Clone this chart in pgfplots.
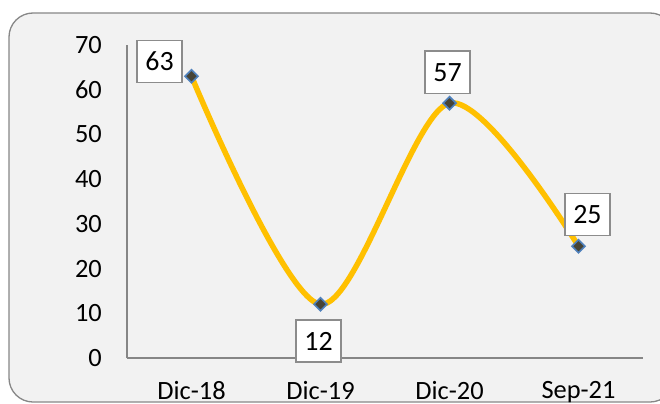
\documentclass[border=0pt]{standalone}
\usepackage{fontspec}
\setmainfont{Carlito}
\usepackage{pgfplots}
\pgfplotsset{compat=1.18}
\usepackage{pgfplotstable}
\definecolor{gold}{HTML}{FFC000}
\definecolor{framegray}{HTML}{878787}
\definecolor{bggray}{HTML}{F2F2F2}
\definecolor{axgray}{HTML}{868686}
\definecolor{mkblue}{HTML}{4F81BD}
\definecolor{mkfill}{HTML}{474436}
\definecolor{boxgray}{HTML}{8C8C8C}
\pgfplotstableread{
x y dx dy
0 63 -32 15
1 12 -2 -37
2 57 -2 31
3 25 9 32
}\datatable
\begin{document}
\begin{tikzpicture}[x=1bp,y=1bp]
\fill[white] (0,0) rectangle (660,403);
\draw[draw=framegray, line width=1.3bp, fill=bggray, rounded corners=24bp] (9,1) rectangle (674,390);
\begin{axis}[
  at={(127bp,45bp)}, anchor=south west,
  width=516bp, height=313bp, scale only axis,
  xmin=-0.5, xmax=3.5, ymin=0, ymax=70,
  xtick={0,1,2,3}, xticklabels={Dic-18,Dic-19,Dic-20,Sep-21},
  ytick={0,10,...,70},
  axis x line=bottom, axis y line=left,
  axis line style={draw=axgray, line width=1.3bp, -},
  major tick length=0pt,
  tick style={draw=none},
  /pgf/number format/assume math mode=true,
  tick label style={font=\fontsize{26.5}{30}\selectfont, inner sep=0pt},
  yticklabel style={anchor=east, xshift=-25bp},
  xticklabel style={anchor=north, yshift=-23bp},
  clip=false,
]
\addplot[gold, line width=5.5bp, smooth, tension=0.5,
  mark=square*, mark size=4.6bp,
  mark options={rotate=45, fill=mkfill, draw=mkblue, line width=1.6bp, solid},
  visualization depends on={\thisrow{dx} \as \dx},
  visualization depends on={\thisrow{dy} \as \dy},
  nodes near coords={\pgfmathprintnumber{\pgfplotspointmeta}},
  point meta=y,
  nodes near coords style={anchor=center, xshift=\dx*1pt, yshift=\dy*1pt,
    draw=boxgray, line width=1.5bp, fill=white, text=black,
    minimum width=45bp, minimum height=42bp, inner sep=0pt,
    font=\fontsize{28}{32}\selectfont},
] table[x=x, y=y] {\datatable};
\end{axis}
\pgfresetboundingbox
\useasboundingbox (0,0) rectangle (660,403);
\end{tikzpicture}
\end{document}
